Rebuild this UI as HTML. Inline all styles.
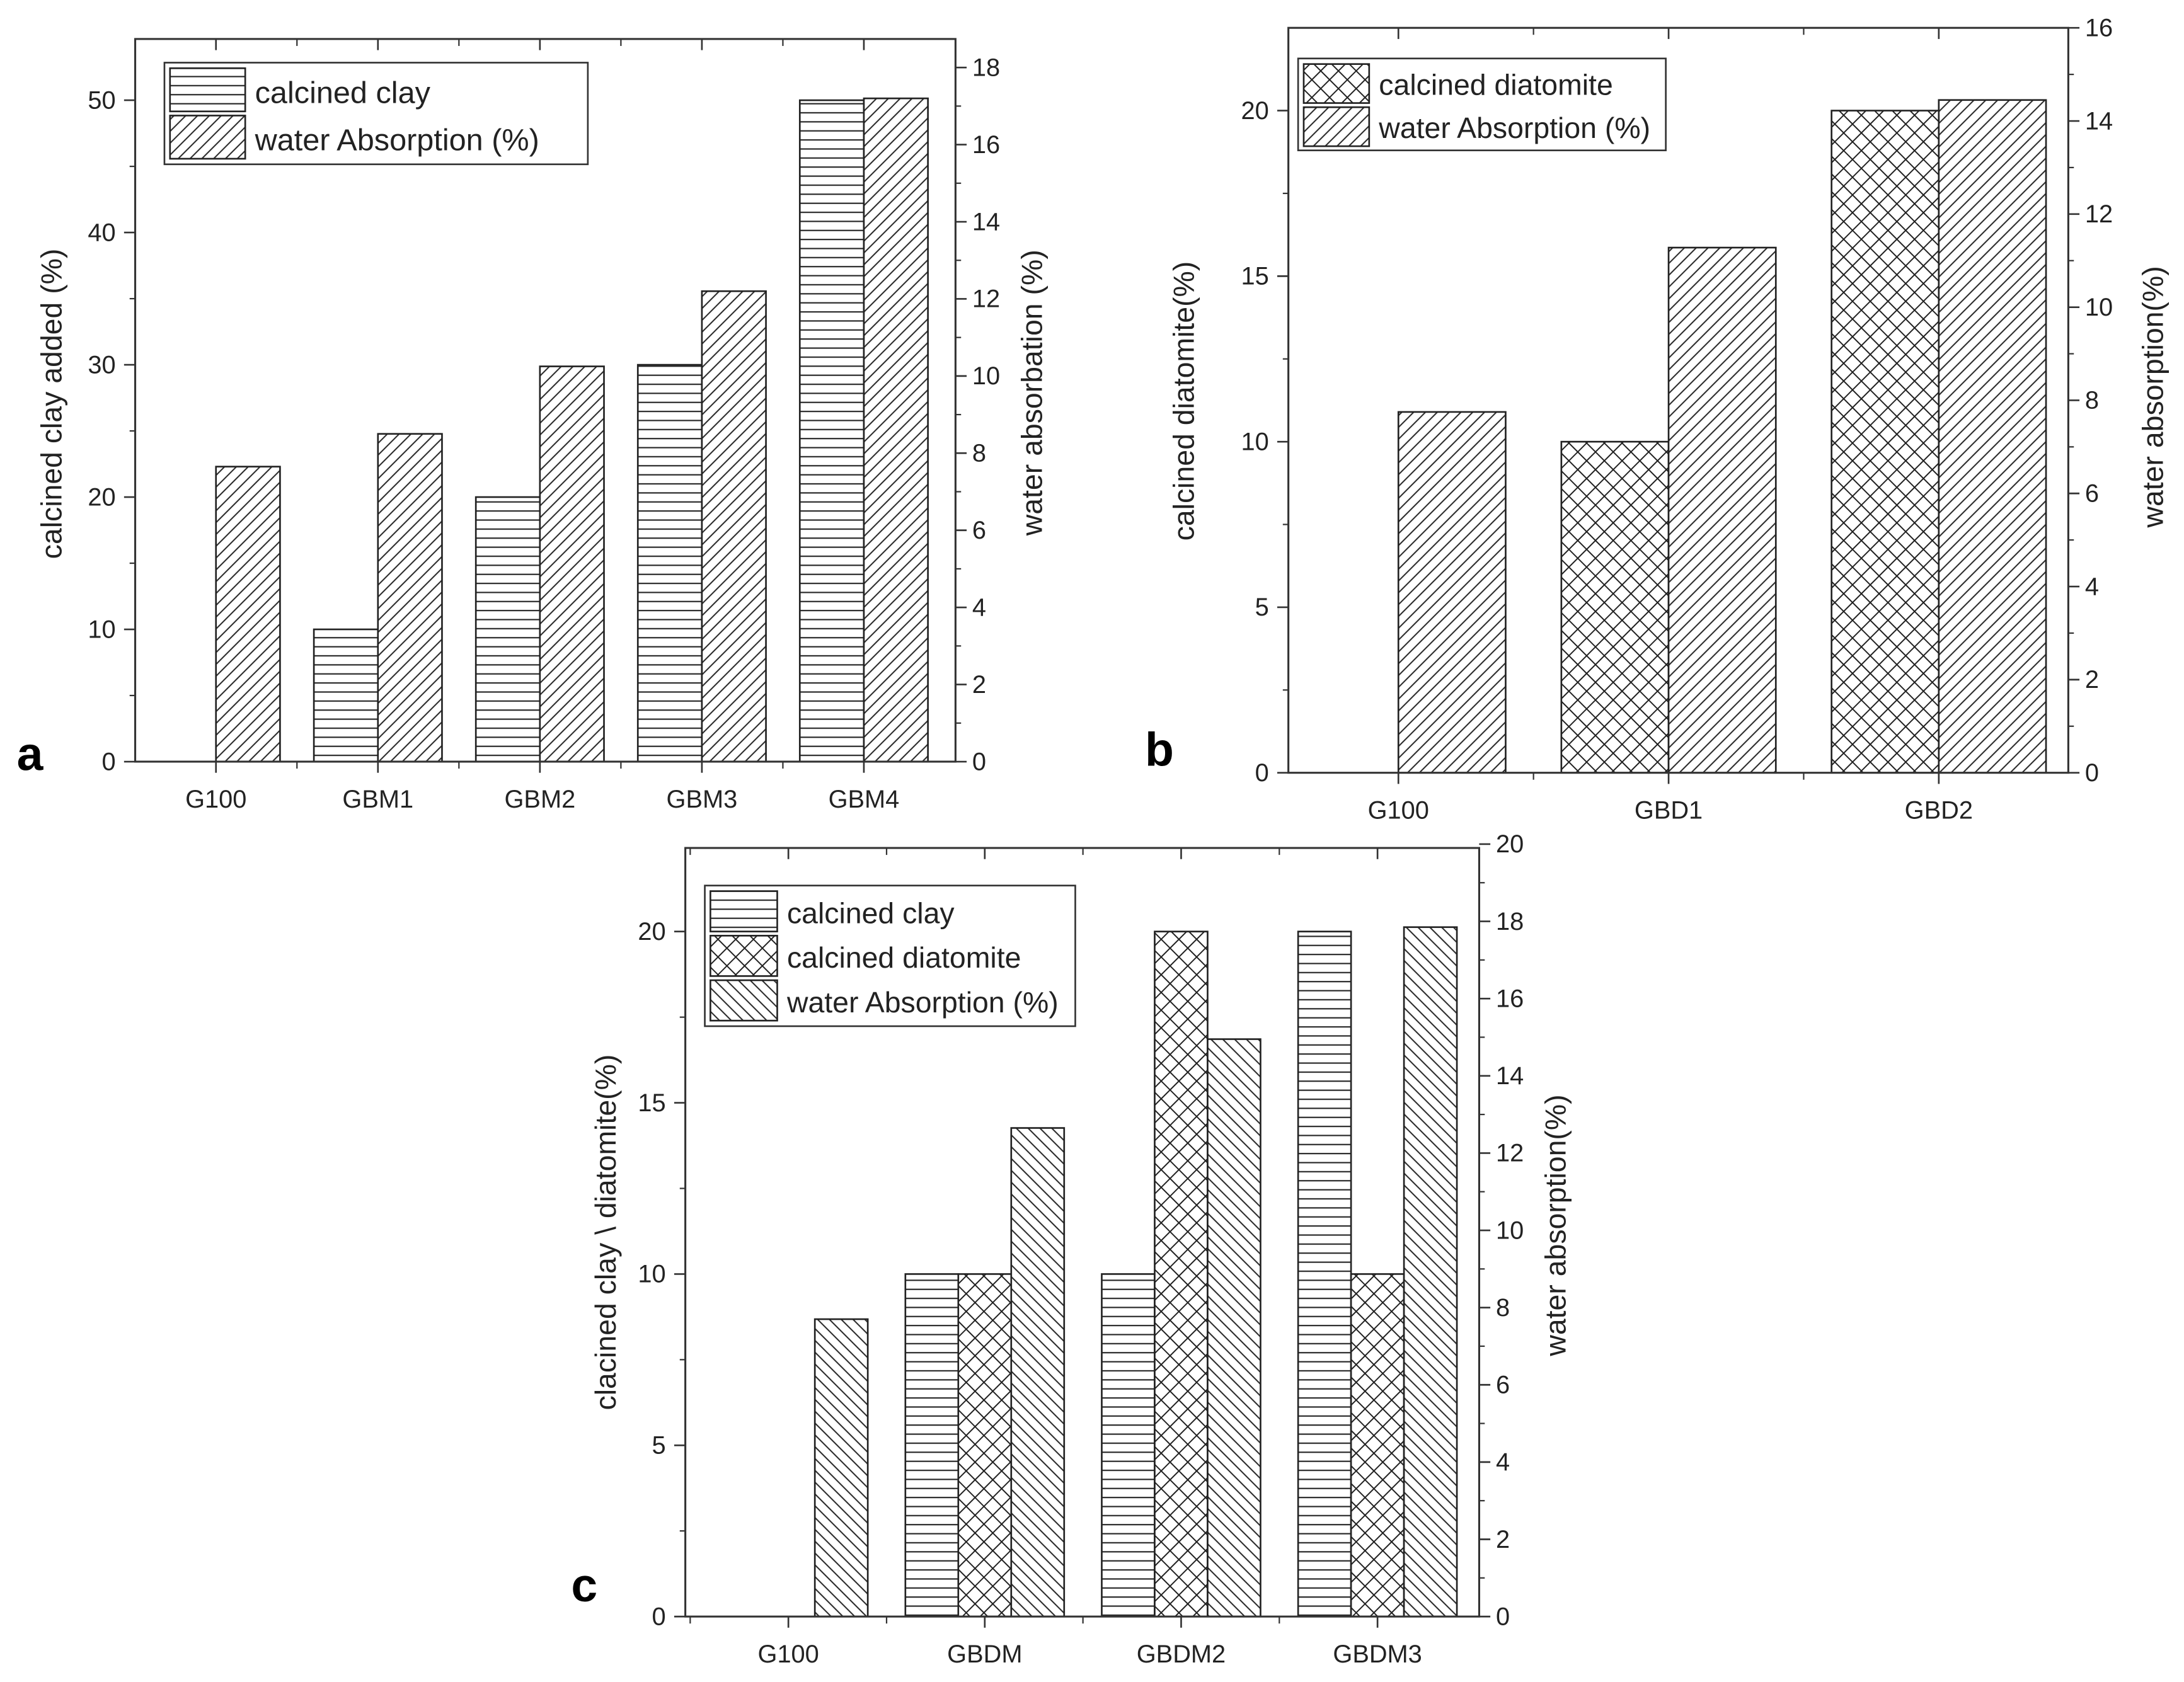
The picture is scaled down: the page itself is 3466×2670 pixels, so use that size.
<!DOCTYPE html>
<html><head><meta charset="utf-8"><style>
html,body{margin:0;padding:0;background:#fff}
svg{display:block}
text{font-family:"Liberation Sans",sans-serif;fill:#222}
</style></head><body>
<svg id="fig" xmlns="http://www.w3.org/2000/svg" width="3466" height="2670" viewBox="0 0 1568 1208">
<defs>
<pattern id="pH" patternUnits="userSpaceOnUse" width="8" height="6.5"><rect width="8" height="6.5" fill="#fff"/><line x1="0" y1="3" x2="8" y2="3" stroke="#222" stroke-width="1"/></pattern>
<pattern id="pF" patternUnits="userSpaceOnUse" width="6" height="6" patternTransform="rotate(-45)"><rect width="6" height="6" fill="#fff"/><line x1="0" y1="3" x2="6" y2="3" stroke="#222" stroke-width="0.9"/></pattern>
<pattern id="pB" patternUnits="userSpaceOnUse" width="6" height="6" patternTransform="rotate(45)"><rect width="6" height="6" fill="#fff"/><line x1="0" y1="3" x2="6" y2="3" stroke="#222" stroke-width="0.9"/></pattern>
<pattern id="pX" patternUnits="userSpaceOnUse" width="9" height="9" patternTransform="rotate(45)"><rect width="9" height="9" fill="#fff"/><line x1="0" y1="4.5" x2="9" y2="4.5" stroke="#222" stroke-width="0.9"/><line x1="4.5" y1="0" x2="4.5" y2="9" stroke="#222" stroke-width="0.9"/></pattern>
</defs>
<g id="root"></g>
<text x="12" y="553" font-size="34" font-weight="bold" style="fill:#000">a</text>
<text x="822" y="550" font-size="34" font-weight="bold" style="fill:#000">b</text>
<text x="410" y="1150" font-size="34" font-weight="bold" style="fill:#000">c</text>
</svg>
<script>
// Panel a data
const aCats = ["G100","GBM1","GBM2","GBM3","GBM4"];
const aClay = [0,10,20,30,50];
const aWater = [7.65,8.5,10.25,12.2,17.2];
const aLeftTicks = [0,10,20,30,40,50];
const aRightTicks = [0,2,4,6,8,10,12,14,16,18];
// Panel b data
const bCats = ["G100","GBD1","GBD2"];
const bDiat = [0,10,20];
const bWater = [7.75,11.28,14.45];
const bLeftTicks = [0,5,10,15,20];
const bRightTicks = [0,2,4,6,8,10,12,14,16];
// Panel c data
const cCats = ["G100","GBDM","GBDM2","GBDM3"];
const cClay = [0,10,10,20];
const cDiat = [0,10,20,10];
const cWater = [7.7,12.65,14.95,17.85];
const cLeftTicks = [0,5,10,15,20];
const cRightTicks = [0,2,4,6,8,10,12,14,16,18,20];

const NS="http://www.w3.org/2000/svg";
const root=document.getElementById('root');
function mk(tag,attrs,parent){const e=document.createElementNS(NS,tag);for(const k in attrs)e.setAttribute(k,attrs[k]);(parent||root).appendChild(e);return e;}

function panel(cfg){
  const g=mk('g',{});
  
  
  const {L,R,T,B}=cfg;
  const yl=v=>B-v/cfg.lmax*(B-T);
  const yr=v=>B-v/cfg.rmax*(B-T);
  const xc=i=>cfg.x0+i*cfg.step;
  cfg.series.forEach((s)=>{
    s.vals.forEach((v,i)=>{
      if(v<=0)return;
      const y=s.axis==='r'?yr(v):yl(v);
      const x=xc(i)+s.off*cfg.bw;
      const r=mk('rect',{x:x,y:y,width:cfg.bw,height:B-y,fill:'url(#'+s.pat+')',stroke:'#222','stroke-width':1.2},g);
      
      
    });
  });
  const fr=mk('rect',{x:L,y:T,width:R-L,height:B-T,fill:'none',stroke:'#333','stroke-width':1.4},g);
  
  
  const lg=mk('g',{},g);
  
  
  cfg.lt.forEach((v,i)=>{
    const y=yl(v);
    mk('line',{x1:L-8,y1:y,x2:L,y2:y,stroke:'#333','stroke-width':1.2},lg);
    const t=mk('text',{x:L-14,y:y+6,'font-size':18,'text-anchor':'end'},lg);t.textContent=v;
    
    
    if(i<cfg.lt.length-1){const ym=yl((v+cfg.lt[i+1])/2);mk('line',{x1:L-4,y1:ym,x2:L,y2:ym,stroke:'#333','stroke-width':1},lg);}
  });
  const rg=mk('g',{},g);
  
  
  cfg.rt.forEach((v,i)=>{
    const y=yr(v);
    mk('line',{x1:R,y1:y,x2:R+8,y2:y,stroke:'#333','stroke-width':1.2},rg);
    const t=mk('text',{x:R+12,y:y+6,'font-size':18},rg);t.textContent=v;
    
    
    if(i<cfg.rt.length-1){const ym=yr((v+cfg.rt[i+1])/2);mk('line',{x1:R,y1:ym,x2:R+4,y2:ym,stroke:'#333','stroke-width':1},rg);}
  });
  const xg=mk('g',{},g);
  
  
  cfg.cats.forEach((c,i)=>{
    const x=xc(i)+cfg.lab;
    mk('line',{x1:x,y1:B,x2:x,y2:B+8,stroke:'#333','stroke-width':1.2},xg);
    mk('line',{x1:x,y1:T,x2:x,y2:T+8,stroke:'#333','stroke-width':1.2},xg);
    const xm=x-cfg.step/2;
    if(xm>L){mk('line',{x1:xm,y1:B,x2:xm,y2:B+5,stroke:'#333','stroke-width':1},xg);mk('line',{x1:xm,y1:T,x2:xm,y2:T+5,stroke:'#333','stroke-width':1},xg);}
    const t=mk('text',{x:x,y:B+33,'font-size':18,'text-anchor':'middle'},xg);t.textContent=c;
    
    
  });
  const t1=mk('text',{transform:`translate(${cfg.ltx},${cfg.lty}) rotate(-90)`,'font-size':21,'text-anchor':'middle'},g);t1.textContent=cfg.ltitle;
  
  
  const t2=mk('text',{transform:`translate(${cfg.rtx},${cfg.rty}) rotate(-90)`,'font-size':21,'text-anchor':'middle'},g);t2.textContent=cfg.rtitle;
  
  
  const lgd=mk('g',{},g);
  
  
  const lw=cfg.leg;
  mk('rect',{x:lw.x,y:lw.y,width:lw.w,height:lw.h,fill:'#fff',stroke:'#333','stroke-width':1.2},lgd);
  cfg.series.forEach((s,i)=>{
    const yy=lw.y+4+i*lw.rh;
    const e=mk('g',{},lgd);
    
    
    mk('rect',{x:lw.x+4,y:yy,width:lw.sw,height:lw.rh-3,fill:'url(#'+s.pat+')',stroke:'#222','stroke-width':1.2},e);
    const t=mk('text',{x:lw.x+lw.sw+11,y:yy+lw.rh-9,'font-size':lw.fs},e);t.textContent=s.label;
  });
}

panel({name:'panel-a',L:97,R:686,T:28,B:547,lmax:54.63,rmax:18.74,x0:155,step:116.3,bw:46,lab:0,cats:aCats,
  lt:aLeftTicks,rt:aRightTicks,
  series:[{key:'clay',vals:aClay,axis:'l',off:-1,pat:'pH',label:'calcined clay'},{key:'water',vals:aWater,axis:'r',off:0,pat:'pF',label:'water Absorption  (%)'}],
  ltitle:'calcined clay added (%)',ltx:44,lty:290,rtitle:'water absorbation (%)',rtx:748,rty:282,
  leg:{x:118,y:45,w:304,h:73,sw:54,rh:34,fs:22}});
panel({name:'panel-b',L:925,R:1485,T:20,B:555,lmax:22.5,rmax:16,x0:1004,step:194,bw:77,lab:0,cats:bCats,
  lt:bLeftTicks,rt:bRightTicks,
  series:[{key:'diatomite',vals:bDiat,axis:'l',off:-1,pat:'pX',label:'calcined diatomite'},{key:'water',vals:bWater,axis:'r',off:0,pat:'pF',label:'water Absorption  (%)'}],
  ltitle:'calcined diatomite(%)',ltx:857,lty:288,rtitle:'water absorption(%)',rtx:1553,rty:285,
  leg:{x:932,y:42,w:264,h:66,sw:47,rh:31,fs:21}});
panel({name:'panel-c',L:492,R:1062,T:609,B:1161,lmax:22.44,rmax:19.9,x0:509,step:141,bw:38,lab:57,cats:cCats,
  lt:cLeftTicks,rt:cRightTicks,
  series:[{key:'clay',vals:cClay,axis:'l',off:0,pat:'pH',label:'calcined clay'},{key:'diatomite',vals:cDiat,axis:'l',off:1,pat:'pX',label:'calcined diatomite'},{key:'water',vals:cWater,axis:'r',off:2,pat:'pB',label:'water Absorption  (%)'}],
  ltitle:'clacined clay \\ diatomite(%)',ltx:442,lty:885,rtitle:'water absorption(%)',rtx:1124,rty:880,
  leg:{x:506,y:636,w:266,h:101,sw:48,rh:32,fs:21}});
</script>
</body></html>
